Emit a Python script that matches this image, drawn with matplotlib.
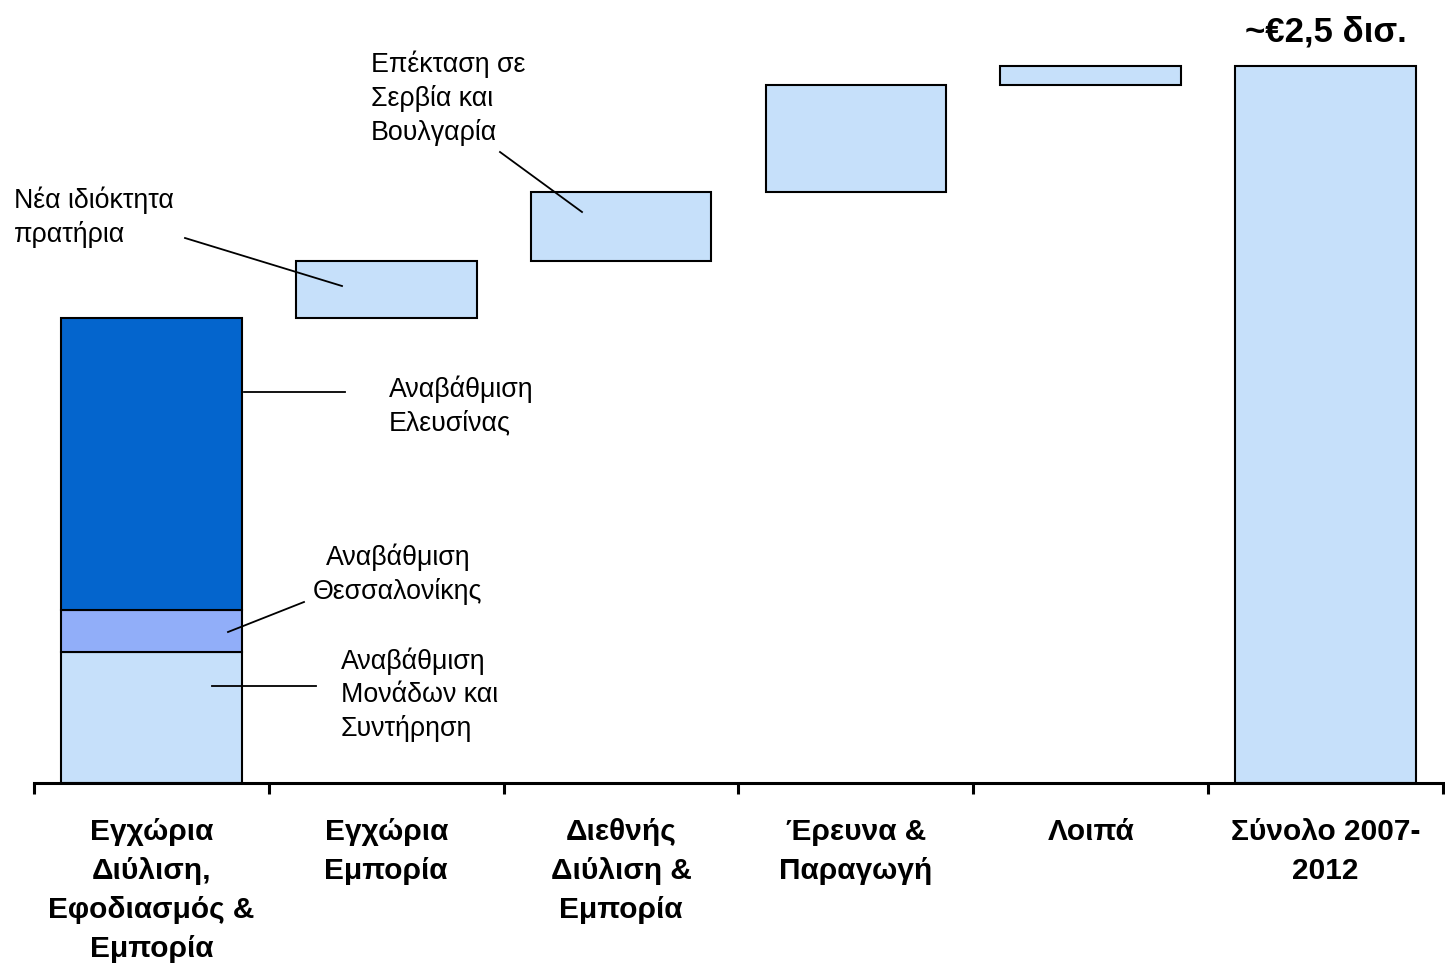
import matplotlib
matplotlib.use('Agg')
import matplotlib.pyplot as plt
import numpy as np

plt.rcParams['font.family'] = ['Liberation Sans', 'DejaVu Sans']

# DATA (εκατ. ευρώ, εκτίμηση από την εικόνα)
categories = ['Εγχώρια\nΔιύλιση,\nΕφοδιασμός &\nΕμπορία', 'Εγχώρια\nΕμπορία',
              'Διεθνής\nΔιύλιση &\nΕμπορία', 'Έρευνα &\nΠαραγωγή', 'Λοιπά',
              'Σύνολο 2007-\n2012']
refining_parts = [457, 146, 1018]   # Μονάδες/Συντήρηση, Θεσσαλονίκη, Ελευσίνα
increments = [199, 241, 373, 66]    # υπόλοιπες κατηγορίες
total_label = '~€2,5 δισ.'

LIGHT = '#C6E0FA'
MID = '#91AEF9'
DARK = '#0465CD'

fig = plt.figure(figsize=(14.45, 9.67), dpi=100)
ax = fig.add_axes([34/1445, 1 - 783/967, (1443 - 34)/1445, 783/967])

total = sum(refining_parts) + sum(increments)
ymax = total * 783 / 717
ax.set_xlim(-0.5, 5.5)
ax.set_ylim(0, ymax)

W = 0.77
kw = dict(width=W, edgecolor='black', linewidth=1.5, zorder=2)

#Στοιβαγμένη μπάρα
seg_colors = [LIGHT, MID, DARK]
bottom = 0
for v, c in zip(refining_parts, seg_colors):
    ax.bar(0, v, bottom=bottom, color=c, **kw)
    bottom += v

#Waterfall
for i, v in enumerate(increments):
    ax.bar(i + 1, v, bottom=bottom, color=LIGHT, **kw)
    bottom += v

#Σύνολο
ax.bar(5, total, color=LIGHT, **kw)
ax.text(5, total + 0.044 * ymax, total_label, ha='center', va='center',
        fontsize=25, fontweight='bold')

#Άξονες
for s in ['top', 'right', 'left']:
    ax.spines[s].set_visible(False)
ax.spines['bottom'].set_linewidth(2.2)
ax.set_yticks([])
ax.set_xticks(np.arange(6))
ax.set_xticklabels(categories, fontsize=21.5, fontweight='bold', linespacing=1.5, va='top')
ax.tick_params(axis='x', which='major', length=0, pad=25)
ax.set_xticks(np.arange(-0.5, 6, 1), minor=True)
ax.tick_params(axis='x', which='minor', length=8, width=2.2, direction='out')

#Σχόλια
def px(x, y):
    return (-0.5 + (x - 34) / (1443 - 34) * 6, (783 - y) / 783 * ymax)

notes = [
    ('Νέα ιδιόκτητα\nπρατήρια', (14, 217), 'left', (185, 238), (342, 286)),
    ('Επέκταση σε\nΣερβία και\nΒουλγαρία', (371, 98), 'left', (500, 152), (582, 212)),
    ('Αναβάθμιση\nΕλευσίνας', (389, 406), 'left', (244, 392), (345, 392)),
    ('Αναβάθμιση\nΘεσσαλονίκης', (398, 574), 'center', (228, 632), (304, 602)),
    ('Αναβάθμιση\nΜονάδων και\nΣυντήρηση', (341, 695), 'left', (212, 686), (316, 686)),
]
for txt, tpos, ha, p0, p1 in notes:
    ax.text(*px(*tpos), txt, ha=ha, va='center', fontsize=19.3, linespacing=1.33,
            multialignment=ha, zorder=3)
    a, b = px(*p0), px(*p1)
    ax.plot([a[0], b[0]], [a[1], b[1]], color='black', linewidth=1.3, zorder=3,
            clip_on=False)

fig.savefig('out.png', dpi=100)
